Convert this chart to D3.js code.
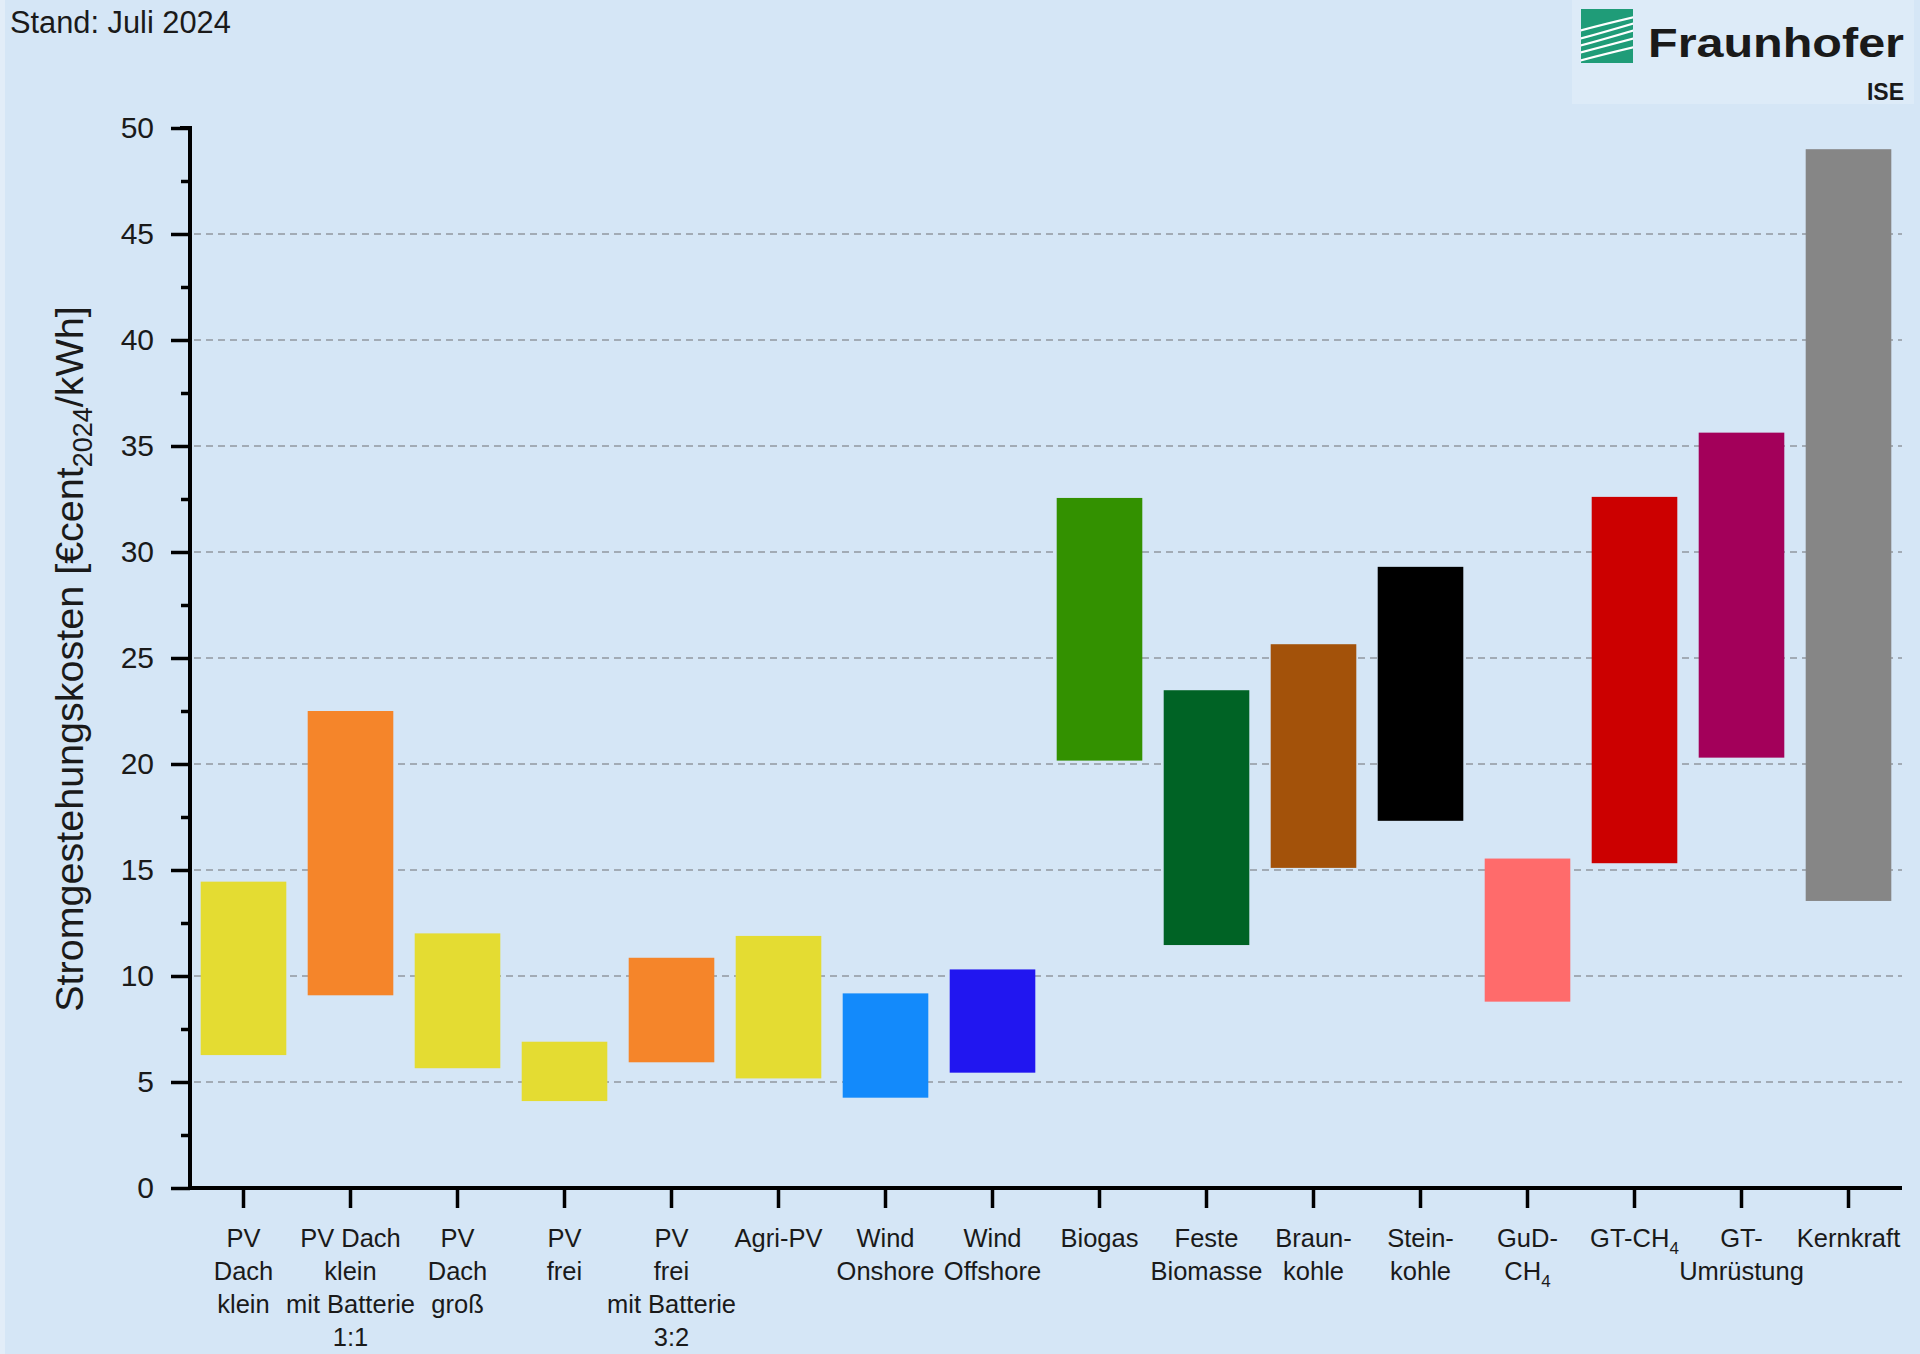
<!DOCTYPE html>
<html>
<head>
<meta charset="utf-8">
<script src="https://cdn.jsdelivr.net/npm/d3@7"></script>
<style>
  html, body { margin: 0; padding: 0; background: #D5E6F6; }
  svg { display: block; }
  text { font-family: "Liberation Sans", Arial, sans-serif; fill: #1a1a1a; }
</style>
</head>
<body>
<svg id="chart" width="1920" height="1354"></svg>
<script>
// ---- data ----
const categories = [
  ["PV", "Dach", "klein"],
  ["PV Dach", "klein", "mit Batterie", "1:1"],
  ["PV", "Dach", "groß"],
  ["PV", "frei"],
  ["PV", "frei", "mit Batterie", "3:2"],
  ["Agri-PV"],
  ["Wind", "Onshore"],
  ["Wind", "Offshore"],
  ["Biogas"],
  ["Feste", "Biomasse"],
  ["Braun-", "kohle"],
  ["Stein-", "kohle"],
  ["GuD-", "CH_4"],
  ["GT-CH_4"],
  ["GT-", "Umrüstung"],
  ["Kernkraft"]
];
const lowValues  = [6.27, 9.09, 5.65, 4.10, 5.93, 5.17, 4.26, 5.44, 20.16, 11.46, 15.10, 17.32, 8.79, 15.32, 20.30, 13.54];
const highValues = [14.45, 22.50, 12.01, 6.90, 10.86, 11.89, 9.18, 10.31, 32.55, 23.48, 25.65, 29.30, 15.54, 32.60, 35.63, 49.00];
const barColors  = ["#E4DC32", "#F5852A", "#E4DC32", "#E4DC32", "#F5852A", "#E4DC32", "#138AFB", "#2116F0",
                    "#339100", "#006325", "#A3520A", "#000000", "#FF6B6B", "#CC0000", "#A3005A", "#868686"];
const yMajorTicks = [0, 5, 10, 15, 20, 25, 30, 35, 40, 45, 50];
const yMinorTicks = [2.5, 7.5, 12.5, 17.5, 22.5, 27.5, 32.5, 37.5, 42.5, 47.5];
const gridValues  = [5, 10, 15, 20, 25, 30, 35, 40, 45];
const standText = "Stand: Juli 2024";

// ---- layout ----
const svg = d3.select("#chart");
const X0 = 190, X1 = 1902, Y0 = 1188, Y1 = 128;

const x = d3.scaleBand().domain(d3.range(categories.length)).range([X0, X1]).paddingInner(0.2).paddingOuter(0.1);
const y = d3.scaleLinear().domain([0, 50]).range([Y0, Y1]);

svg.append("rect").attr("width", 1920).attr("height", 1354).attr("fill", "#D5E6F6");
svg.append("rect").attr("width", 5).attr("height", 1354).attr("fill", "#E2EDF8");

// logo background
svg.append("rect").attr("x", 1572).attr("y", 0).attr("width", 342).attr("height", 104).attr("fill", "#DDEBF8");

// grid lines
svg.append("g").selectAll("line").data(gridValues).join("line")
  .attr("x1", X0 + 4).attr("x2", X1)
  .attr("y1", d => y(d)).attr("y2", d => y(d))
  .attr("stroke", "#A2ABB5").attr("stroke-width", 2).attr("stroke-dasharray", "7,5");

// bars
svg.append("g").selectAll("rect").data(categories.map((c, i) => i)).join("rect")
  .attr("x", i => x(i))
  .attr("width", x.bandwidth())
  .attr("y", i => y(highValues[i]))
  .attr("height", i => y(lowValues[i]) - y(highValues[i]))
  .attr("fill", i => barColors[i]);

// y axis
const yAxis = d3.axisLeft(y).tickValues(yMajorTicks).tickSize(19).tickPadding(17).tickFormat(d3.format("d"));
const gy = svg.append("g").attr("transform", `translate(${X0},0)`).call(yAxis);
gy.select(".domain").attr("stroke", "#000").attr("stroke-width", 4).attr("d", `M-10,${Y1}H0V${Y0}`);
gy.selectAll(".tick line").attr("stroke", "#000").attr("stroke-width", 3.5);
gy.selectAll(".tick text").attr("font-size", 30).attr("fill", "#1a1a1a")
  .attr("font-family", "'Liberation Sans', Arial, sans-serif");
const yMinor = d3.axisLeft(y).tickValues(yMinorTicks).tickSize(9).tickFormat("");
const gym = svg.append("g").attr("transform", `translate(${X0},0)`).call(yMinor);
gym.select(".domain").remove();
gym.selectAll(".tick line").attr("stroke", "#000").attr("stroke-width", 3.5);

// x axis
const xAxis = d3.axisBottom(x).tickSize(20).tickFormat("");
const gx = svg.append("g").attr("transform", `translate(0,${Y0})`).call(xAxis);
gx.select(".domain").attr("stroke", "#000").attr("stroke-width", 4).attr("d", `M${X0},0H${X1}`);
gx.selectAll(".tick line").attr("stroke", "#000").attr("stroke-width", 3.5);

// category labels
const labelG = svg.append("g");
categories.forEach((lines, i) => {
  const t = labelG.append("text")
    .attr("x", x(i) + x.bandwidth() / 2)
    .attr("y", 1247)
    .attr("text-anchor", "middle")
    .attr("font-size", 25.5);
  lines.forEach((line, j) => {
    const parts = line.split("_");
    t.append("tspan").attr("x", x(i) + x.bandwidth() / 2).attr("y", 1247 + j * 33).text(parts[0]);
    if (parts.length > 1) {
      t.append("tspan").attr("font-size", 17).attr("dy", 7).text(parts[1]);
    }
  });
});

// y title
const yt = svg.append("text")
  .attr("transform", "translate(83,659) rotate(-90)")
  .attr("text-anchor", "middle")
  .attr("font-size", 39.5);
yt.append("tspan").text("Stromgestehungskosten [€cent");
yt.append("tspan").attr("font-size", 27).attr("dy", 9).text("2024");
yt.append("tspan").attr("dy", -9).text("/kWh]");

// Stand text
svg.append("text").attr("x", 10).attr("y", 33).attr("font-size", 30.8).text(standText);

// Fraunhofer logo
const logo = svg.append("g").attr("transform", "translate(1581,9)");
logo.append("clipPath").attr("id", "lclip").append("rect").attr("width", 52).attr("height", 54);
logo.append("rect").attr("width", 52).attr("height", 54).attr("fill", "#1F9C78");
const stripes = logo.append("g").attr("clip-path", "url(#lclip)")
  .attr("fill", "none").attr("stroke", "#fff").attr("stroke-width", 2.2);
[[18, 8], [26, 14], [33, 21], [40, 29], [48, 38]].forEach(([a, b]) => {
  stripes.append("path").attr("d", `M-2,${a + 4} Q20,${a - 2} 54,${b}`);
});
svg.append("text").attr("x", 1648).attr("y", 57).attr("font-size", 40)
  .attr("font-family", "'Open Sans', 'DejaVu Sans', sans-serif").attr("font-weight", 700)
  .attr("textLength", 256).attr("lengthAdjust", "spacingAndGlyphs").attr("fill", "#111").text("Fraunhofer");
svg.append("text").attr("x", 1904).attr("y", 100).attr("font-size", 23)
  .attr("font-family", "'Open Sans', 'DejaVu Sans', sans-serif").attr("font-weight", 700)
  .attr("text-anchor", "end").attr("fill", "#111").text("ISE");
</script>
</body>
</html>
